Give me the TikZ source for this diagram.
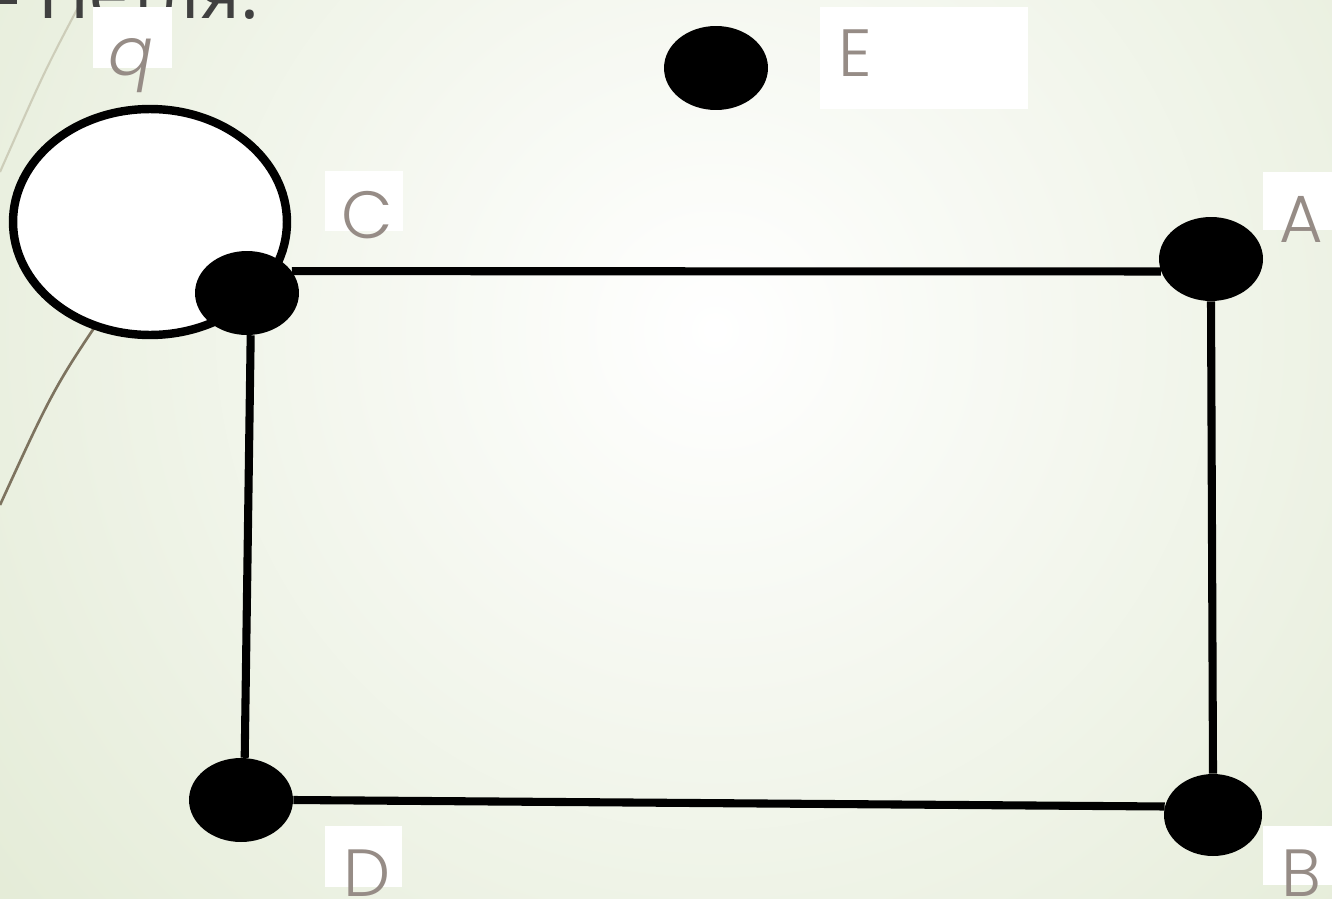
\documentclass[tikz,border=0pt]{standalone}
\usepackage{fontspec}
\setmainfont{Poppins}[UprightFont=* Light, ItalicFont=* Light Italic]
\newfontfamily\titlefont{Noto Sans}
\usepackage{tikz}
\usetikzlibrary{shapes.geometric}
\definecolor{bgout}{RGB}{226,234,212}
\definecolor{labgray}{RGB}{150,140,134}
\definecolor{titlegray}{RGB}{64,64,64}
\definecolor{decolight}{RGB}{205,205,185}
\definecolor{decodark}{RGB}{125,115,95}

\begin{document}
\begin{tikzpicture}[x=0.02cm,y=-0.02cm,
  vertex/.style={ellipse,fill=black,inner sep=0pt,minimum width=2.08cm,minimum height=1.68cm},
  edge/.style={line width=4.6pt},
  loopline/.style={line width=4.8pt,fill=white},
  labbox/.style={fill=white},
  lab/.style={anchor=base west,inner sep=0pt,text=labgray,font=\fontsize{38}{42}\selectfont}]
  \useasboundingbox (0,0) rectangle (1332,899);
  \clip (0,0) rectangle (1332,899);
  % background
  \fill[bgout] (0,0) rectangle (1332,899);
  \shade[inner color=white,outer color=bgout] (715,330) circle (20cm);
  \draw[decolight,line width=1.2pt] (82,0) .. controls (45,70) .. (0,172);
  \draw[decodark,line width=1.5pt] (120,290) .. controls (55,385) .. (0,505);
  % title
  \fill[titlegray] (0,0) rectangle (17,4);
  \node[anchor=base west,inner sep=0pt,text=titlegray,font=\titlefont\fontsize{40}{44}\selectfont] (title) at (38,18) {Петля:};

  % loop at C
  \draw[loopline] (150,222) ellipse [x radius=2.74cm, y radius=2.26cm];

  % vertices
  \node[vertex] (E) at (716,68) {};
  \node[vertex] (C) at (247,293) {};
  \node[vertex] (A) at (1211,259) {};
  \node[vertex] (D) at (241,800) {};
  \node[vertex, minimum width=1.96cm, minimum height=1.64cm] (B) at (1213,815) {};

  % edges
  \draw[edge] (C.26) -- (A.194);
  \draw[edge] (A.south) -- (B.north);
  \draw[edge] (D.east) -- (B.170);
  \draw[edge] (C.-85) -- (D.85);

  % labels
  \fill[labbox] (93,7) rectangle (172,68);
  \fill[labbox] (820,7) rectangle (1028,109);
  \fill[labbox] (325,171) rectangle (403,231);
  \fill[labbox] (1263,172) rectangle (1332,230);
  \fill[labbox] (1263,826) rectangle (1332,885);
  \fill[labbox] (325,826) rectangle (402,887);
  \node[lab,font=\fontsize{38}{42}\selectfont\itshape] (labq) at (108,75) {q};
  \node[lab] (labE) at (838,76) {E};
  \node[lab] (labC) at (341,238) {C};
  \node[lab] (labA) at (1279,242) {A};
  \node[lab] (labB) at (1281,896) {B};
  \node[lab] (labD) at (343,896) {D};
\end{tikzpicture}
\end{document}
